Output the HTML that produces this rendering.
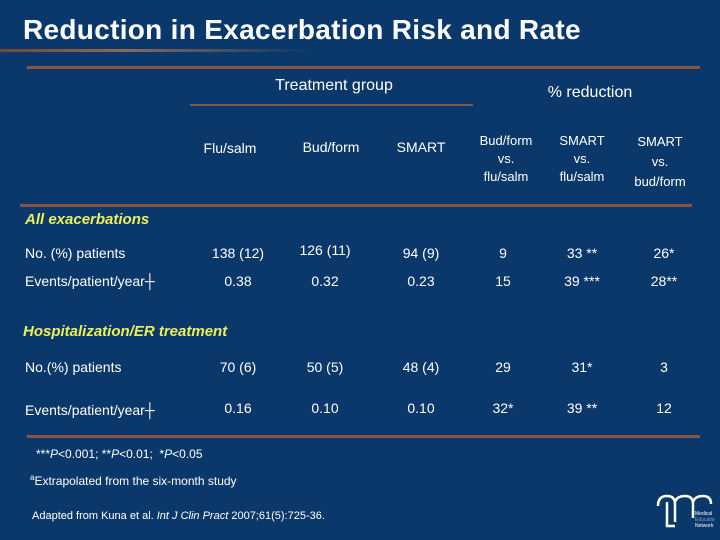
<!DOCTYPE html>
<html><head><meta charset="utf-8"><style>
body{margin:0;width:720px;height:540px;overflow:hidden;background:#0b386b;font-family:"Liberation Sans",sans-serif;color:#fff}
.a{position:absolute;white-space:nowrap}
.c{transform:translateX(-50%);text-align:center}
.t{font-size:14px}
.y{color:#eef05a;font-weight:bold;font-style:italic;font-size:15px}
.ln{position:absolute;background:#8a5540}
</style></head><body>
<div class="a" style="left:23px;top:14px;font-size:28px;font-weight:bold;letter-spacing:0.3px">Reduction in Exacerbation Risk and Rate</div>
<div class="ln" style="left:0;top:49px;width:310px;height:3px;background:linear-gradient(90deg,#6b4a3a,#8a6a5a 40%,rgba(11,56,107,0))"></div>
<div class="ln" style="left:27px;top:66px;width:673px;height:3px"></div>
<div class="a c" style="left:334px;top:77px;font-size:16px">Treatment group</div>
<div class="ln" style="left:190px;top:104px;width:283px;height:2px;background:#7a5a50"></div>
<div class="a c" style="left:590px;top:84px;font-size:16px">% reduction</div>
<div class="a c t" style="left:230px;top:140px">Flu/salm</div>
<div class="a c t" style="left:331px;top:139px">Bud/form</div>
<div class="a c t" style="left:421px;top:139px">SMART</div>
<div class="a c" style="left:506px;top:132px;font-size:13px;line-height:18px">Bud/form<br>vs.<br>flu/salm</div>
<div class="a c" style="left:582px;top:132px;font-size:13px;line-height:18px">SMART<br>vs.<br>flu/salm</div>
<div class="a c" style="left:660px;top:132px;font-size:13px;line-height:20px">SMART<br>vs.<br>bud/form</div>
<div class="ln" style="left:20px;top:204px;width:672px;height:3px"></div>
<div class="a y" style="left:25px;top:211px">All exacerbations</div>
<div class="a t" style="left:25px;top:245px">No. (%) patients</div>
<div class="a t" style="left:25px;top:273px">Events/patient/year┼</div>
<div class="a y" style="left:23px;top:323px">Hospitalization/ER treatment</div>
<div class="a t" style="left:25px;top:359px">No.(%) patients</div>
<div class="a t" style="left:25px;top:402px">Events/patient/year┼</div>
<div id="cells"></div>
<div class="ln" style="left:27px;top:435px;width:673px;height:3px"></div>
<div class="a" style="left:36px;top:447px;font-size:12px">***<i>P</i>&lt;0.001; **<i>P</i>&lt;0.01;&nbsp; *<i>P</i>&lt;0.05</div>
<div class="a" style="left:30px;top:473px;font-size:12px"><sup style="font-size:8px">a</sup>Extrapolated from the six-month study</div>
<div class="a" style="left:32px;top:510px;font-size:11px">Adapted from Kuna et al. <i>Int J Clin Pract</i> 2007;61(5):725-36.</div>
<div class="a" style="left:655px;top:492px;width:60px;height:40px">
<svg width="60" height="40" viewBox="0 0 60 40"><path d="M3 14 Q3 4 12 4 Q20 4 20 12 L20 30 M20 10 Q22 4 30 4 Q38 4 38 12 L38 26 M38 10 Q40 4 48 4 Q56 4 56 12 M12 10 L12 34 L20 34" stroke="#fff" stroke-width="2.5" fill="none"/><text x="40" y="23" font-size="5" fill="#fff" font-family="Liberation Sans">Medical</text><text x="40" y="29" font-size="5" fill="#7f9fc5" font-family="Liberation Sans">Education</text><text x="40" y="35" font-size="5" fill="#fff" font-family="Liberation Sans">Network</text></svg></div>
<script>
const rowTops=[245,273,359,400];
const colX=[238,325,421,503,582,664];
const rowData1=["138 (12)","126 (11)","94 (9)","9","33 **","26*"];
const rowData2=["0.38","0.32","0.23","15","39 ***","28**"];
const rowData3=["70 (6)","50 (5)","48 (4)","29","31*","3"];
const rowData4=["0.16","0.10","0.10","32*","39 **","12"];
const rows=[rowData1,rowData2,rowData3,rowData4];
const cont=document.getElementById('cells');
rows.forEach((r,i)=>r.forEach((v,j)=>{
 const d=document.createElement('div');
 d.className='a c t';
 d.style.left=colX[j]+'px';
 d.style.top=(rowTops[i]+(j===1&&i===0?-3:0))+'px';
 d.textContent=v;
 
 
 cont.appendChild(d);
}));
</script>
</body></html>
